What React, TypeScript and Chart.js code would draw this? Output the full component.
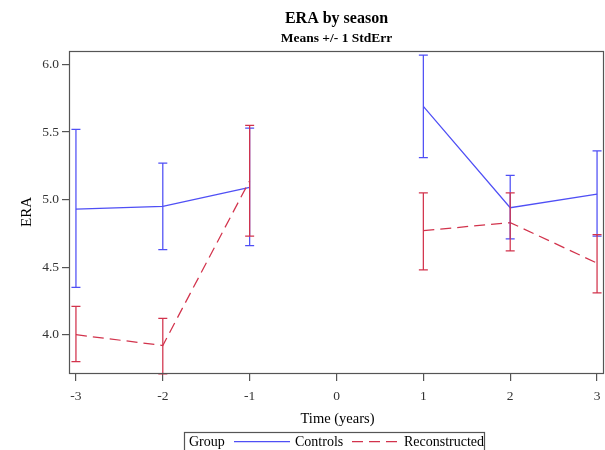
import React, { useEffect, useRef } from "react";
import { Chart, registerables } from "chart.js";

Chart.register(...registerables);

const timePoints = [-3, -2, -1, 0, 1, 2, 3];
const controlsMean = [4.93, 4.95, 5.09, null, 5.69, 4.94, 5.04];
const controlsLower = [4.35, 4.63, 4.66, null, 5.31, 4.71, 4.73];
const controlsUpper = [5.52, 5.27, 5.53, null, 6.07, 5.18, 5.36];
const reconMean = [4.0, 3.92, 5.14, null, 4.77, 4.83, 4.53];
const reconLower = [3.8, 3.71, 4.73, null, 4.48, 4.62, 4.31];
const reconUpper = [4.21, 4.12, 5.55, null, 5.05, 5.05, 4.74];
const xTicks = [-3, -2, -1, 0, 1, 2, 3];
const yTicks = [4.0, 4.5, 5.0, 5.5, 6.0];

const BLUE = "#4f4ff5";
const RED = "#d2334c";
const FRAME = "#555555";
const SERIF = '"Liberation Serif", "Times New Roman", serif';

const errorBarsPlugin = {
  id: "errorBars",
  afterDatasetsDraw(chart: any) {
    const ctx = chart.ctx;
    const xs = chart.scales.x;
    const ys = chart.scales.y;
    const groups = [
      { lo: controlsLower, hi: controlsUpper, color: BLUE },
      { lo: reconLower, hi: reconUpper, color: RED },
    ];
    ctx.save();
    ctx.lineWidth = 1.25;
    ctx.setLineDash([]);
    for (const g of groups) {
      ctx.strokeStyle = g.color;
      timePoints.forEach((t, i) => {
        const lo = g.lo[i];
        const hi = g.hi[i];
        if (lo == null || hi == null) return;
        const x = xs.getPixelForValue(t);
        const yl = ys.getPixelForValue(lo);
        const yh = ys.getPixelForValue(hi);
        ctx.beginPath();
        ctx.moveTo(x, yl);
        ctx.lineTo(x, yh);
        ctx.moveTo(x - 4.5, yl);
        ctx.lineTo(x + 4.5, yl);
        ctx.moveTo(x - 4.5, yh);
        ctx.lineTo(x + 4.5, yh);
        ctx.stroke();
      });
    }
    ctx.restore();
  },
};

const decorPlugin = {
  id: "decor",
  afterDraw(chart: any) {
    const ctx = chart.ctx;
    const a = chart.chartArea;
    const cx = (a.left + a.right) / 2;
    ctx.save();
    // frame
    ctx.strokeStyle = FRAME;
    ctx.lineWidth = 1.2;
    ctx.setLineDash([]);
    ctx.strokeRect(a.left + 0.5, a.top + 0.5, a.right - a.left - 1, a.bottom - a.top - 1);

    // titles
    ctx.fillStyle = "#000";
    ctx.textAlign = "center";
    ctx.textBaseline = "alphabetic";
    ctx.font = `bold 16px ${SERIF}`;
    ctx.fillText("ERA by season", cx, 23);
    ctx.font = `bold 13.5px ${SERIF}`;
    ctx.fillText("Means +/- 1 StdErr", cx, 42);

    // axis titles
    ctx.font = `14.5px ${SERIF}`;
    ctx.fillText("Time (years)", cx + 1, 423);
    ctx.save();
    ctx.translate(26, 212);
    ctx.rotate(-Math.PI / 2);
    ctx.font = `15px ${SERIF}`;
    ctx.fillText("ERA", 0, 5);
    ctx.restore();

    // legend
    ctx.lineWidth = 1.2;
    ctx.strokeStyle = FRAME;
    ctx.strokeRect(184.5, 432.5, 300, 30);
    ctx.font = `14px ${SERIF}`;
    ctx.textAlign = "left";
    ctx.fillStyle = "#000";
    ctx.fillText("Group", 189, 446);
    ctx.fillText("Controls", 295, 446);
    ctx.fillText("Reconstructed", 404, 446);
    ctx.lineWidth = 1.25;
    ctx.strokeStyle = BLUE;
    ctx.beginPath();
    ctx.moveTo(234, 441.5);
    ctx.lineTo(290, 441.5);
    ctx.stroke();
    ctx.strokeStyle = RED;
    ctx.setLineDash([11, 6]);
    ctx.beginPath();
    ctx.moveTo(352, 441.5);
    ctx.lineTo(398, 441.5);
    ctx.stroke();
    ctx.restore();
  },
};

export default function App() {
  const ref = useRef<HTMLCanvasElement | null>(null);

  useEffect(() => {
    if (!ref.current) return;
    const chart = new Chart(ref.current, {
      type: "line",
      data: {
        datasets: [
          {
            label: "Controls",
            data: timePoints.map((t, i) => ({ x: t, y: controlsMean[i] })) as any,
            borderColor: BLUE,
            borderWidth: 1.25,
            pointRadius: 0,
            spanGaps: false,
            fill: false,
            tension: 0,
            order: 1,
          },
          {
            label: "Reconstructed",
            data: timePoints.map((t, i) => ({ x: t, y: reconMean[i] })) as any,
            borderColor: RED,
            borderWidth: 1.25,
            borderDash: [11, 6],
            pointRadius: 0,
            spanGaps: false,
            fill: false,
            tension: 0,
            order: 0,
          },
        ],
      },
      options: {
        animation: false,
        responsive: false,
        devicePixelRatio: 1,
        layout: { padding: { top: 51, right: 1, left: 0, bottom: 0 } },
        plugins: {
          legend: { display: false },
          title: { display: false },
          tooltip: { enabled: false },
        },
        scales: {
          x: {
            type: "linear",
            min: -3.08,
            max: 3.08,
            afterBuildTicks: (s: any) => {
              s.ticks = xTicks.map((v) => ({ value: v }));
            },
            afterFit: (s: any) => {
              s.height = 76;
              s.paddingLeft = 0;
              s.paddingRight = 0;
            },
            grid: {
              display: true,
              drawOnChartArea: false,
              drawTicks: true,
              tickLength: 7,
              lineWidth: 1.2,
              color: FRAME,
            },
            border: { display: false },
            ticks: {
              autoSkip: false,
              maxRotation: 0,
              padding: 7,
              color: "#333",
              font: { family: SERIF, size: 13.5 },
              callback: (v: any) => String(v),
            },
          },
          y: {
            type: "linear",
            min: 3.709,
            max: 6.1,
            afterBuildTicks: (s: any) => {
              s.ticks = yTicks.map((v) => ({ value: v }));
            },
            afterFit: (s: any) => {
              s.width = 69;
              s.paddingTop = 0;
              s.paddingBottom = 0;
            },
            grid: {
              display: true,
              drawOnChartArea: false,
              drawTicks: true,
              tickLength: 7,
              lineWidth: 1.2,
              color: FRAME,
            },
            border: { display: false },
            ticks: {
              autoSkip: false,
              padding: 3,
              color: "#333",
              font: { family: SERIF, size: 13.5 },
              callback: (v: any) => Number(v).toFixed(1),
            },
          },
        },
      },
      plugins: [errorBarsPlugin, decorPlugin],
    });
    return () => chart.destroy();
  }, []);

  return (
    <div style={{ position: "absolute", left: 0, top: 0, width: 605, height: 450, background: "#fff" }}>
      <canvas ref={ref} width={605} height={450} style={{ display: "block" }} />
    </div>
  );
}
